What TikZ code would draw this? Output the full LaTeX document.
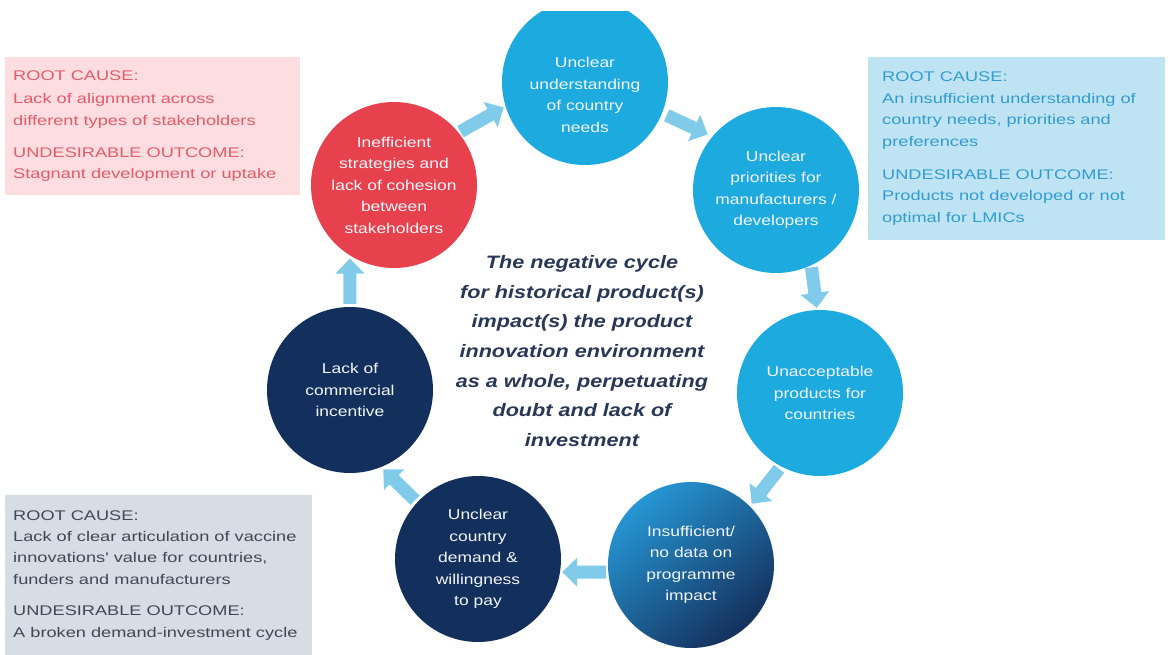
\documentclass[tikz,border=0pt]{standalone}
\usepackage{fontspec}
\usetikzlibrary{arrows.meta}
\newfontfamily\boxfont[FakeStretch=1.3]{Liberation Sans}
\newfontfamily\circfont[FakeStretch=1.22]{Liberation Sans}
\newfontfamily\centfont[FakeStretch=1.2]{Liberation Sans}
\definecolor{cyanC}{RGB}{29,170,223}
\definecolor{redC}{RGB}{232,65,78}
\definecolor{navyC}{RGB}{19,48,92}
\definecolor{arrowC}{RGB}{128,203,234}
\definecolor{pinkBg}{RGB}{253,221,224}
\definecolor{pinkTx}{RGB}{226,92,106}
\definecolor{blueBg}{RGB}{190,228,244}
\definecolor{blueTx}{RGB}{50,155,208}
\definecolor{greyBg}{RGB}{214,221,228}
\definecolor{greyTx}{RGB}{64,72,86}
\definecolor{centTx}{RGB}{40,55,85}
\definecolor{circTx}{RGB}{242,246,250}
\begin{document}
\begin{tikzpicture}[x=1pt,y=-1pt,
  circ/.style={circle, minimum size=166pt, inner sep=0pt, draw=none},
  ctext/.style={align=center, text=circTx, font=\circfont\fontsize{14.3}{21.5}\selectfont},
  flow/.style={draw=arrowC, line width=13pt, -{Triangle[width=28pt,length=15pt]}, shorten <=2pt, shorten >=2pt},
  boxbg/.style={fill, draw=none, anchor=north west, inner sep=0pt},
  boxtext/.style={anchor=west, align=left, inner sep=0pt, font=\boxfont\fontsize{14}{21.4}\selectfont},
]
\useasboundingbox (0,0) rectangle (1168,655);
\fill[white] (0,0) rectangle (1168,655);

% boxes
\node[boxbg, fill=pinkBg, minimum width=295pt, minimum height=138pt] (pbox) at (5,57) {};
\node[boxtext, text=pinkTx] (ptext) at ([xshift=8pt]pbox.west) {ROOT CAUSE:\\[2pt]Lack of alignment across\\different types of stakeholders\\[11pt]UNDESIRABLE OUTCOME:\\Stagnant development or uptake};

\node[boxbg, fill=blueBg, minimum width=297pt, minimum height=183pt] (bbox) at (868,57) {};
\node[boxtext, text=blueTx] (btext) at ([xshift=14pt]bbox.west) {ROOT CAUSE:\\An insufficient understanding of\\country needs, priorities and\\preferences\\[12pt]UNDESIRABLE OUTCOME:\\Products not developed or not\\optimal for LMICs};

\node[boxbg, fill=greyBg, minimum width=307pt, minimum height=160pt] (gbox) at (5,495) {};
\node[boxtext, text=greyTx] (gtext) at ([xshift=8pt]gbox.west) {ROOT CAUSE:\\Lack of clear articulation of vaccine\\innovations' value for countries,\\funders and manufacturers\\[10pt]UNDESIRABLE OUTCOME:\\A broken demand-investment cycle};

% circles
\begin{scope}
  \clip (0,12) rectangle (1168,655);
  \node[circ, fill=cyanC] (c1) at (585,82) {};
\end{scope}
\node[ctext] (t1) at (585,95) {Unclear\\understanding\\of country\\needs};
\node[circ, fill=cyanC, ctext] (c2) at (776,190) {Unclear\\priorities for\\manufacturers /\\developers};
\node[circ, fill=cyanC, ctext] (c3) at (820,393) {Unacceptable\\products for\\countries};
\node[circ, top color={rgb,255:red,38;green,150;blue,212}, bottom color={rgb,255:red,20;green,48;blue,92}, shading angle=40, ctext] (c4) at (691,565) {Insufficient/\\no data on\\programme\\impact};
\node[circ, fill=navyC, ctext] (c5) at (478,559) {Unclear\\country\\demand \&\\willingness\\to pay};
\node[circ, fill=navyC, ctext] (c6) at (350,390) {Lack of\\commercial\\incentive};
\node[circ, fill=redC, ctext] (c7) at (394,185) {Inefficient\\strategies and\\lack of cohesion\\between\\stakeholders};

% centre text
\node[align=center, text=centTx, font=\centfont\bfseries\itshape\fontsize{18}{29.7}\selectfont] (mid) at (582,351)
  {The negative cycle\\for historical product(s)\\impact(s) the product\\innovation environment\\as a whole, perpetuating\\doubt and lack of\\investment};

% arrows
\draw[flow] (c7.39) -- (c1.197);
\draw[flow, shorten <=5pt, shorten >=5pt] (c1.-22) -- (c2.140);
\draw[flow] (c2.-65) -- (c3.92);
\draw[flow, shorten <=3pt, shorten >=3pt] (c3.-118) -- (c4.45);
\draw[flow] (c4.-175) -- (c5.-9);
\draw[flow, shorten <=3pt, shorten >=3pt] (c5.137) -- (c6.-68);
\draw[flow, shorten <=3pt, shorten >=3pt] (c6.north) -- (c7.-122);
\end{tikzpicture}
\end{document}
